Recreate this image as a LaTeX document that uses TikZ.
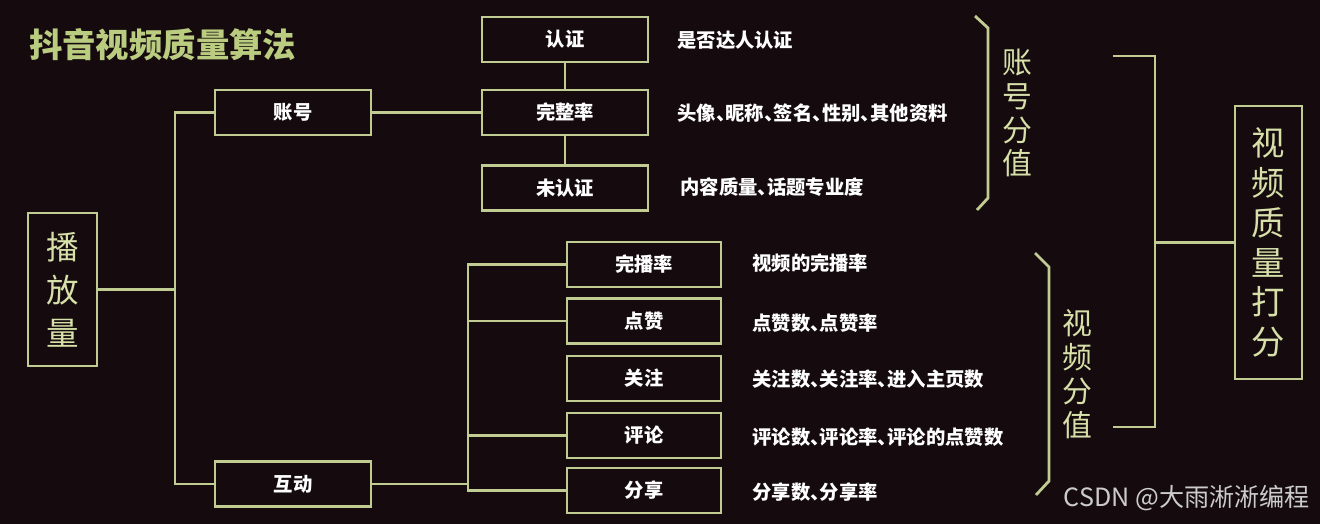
\documentclass[tikz,border=0pt]{standalone}
\usepackage{fontspec}
\usepackage{xcolor}
\usepackage{tikz}
\setmainfont{Noto Sans CJK SC}
\definecolor{dybg}{RGB}{21,11,14}
\definecolor{dyline}{RGB}{192,204,146}
\definecolor{dyvert}{RGB}{214,224,168}
\definecolor{dytitle}{RGB}{186,204,128}
\newcommand{\dun}{\makebox[0.5em][l]{、}}

\begin{document}
\begin{tikzpicture}[x=0.02cm, y=-0.02cm,
    b/.style={draw=dyline, line width=1.6pt, minimum height=0.9cm, inner sep=0pt,
              text=white, font=\fontsize{11}{13}\selectfont\bfseries},
    d/.style={anchor=west, text=white, inner sep=0pt, font=\fontsize{11}{13}\selectfont\bfseries},
    v/.style={align=center, text=dyvert, inner sep=0pt},
    l/.style={dyline, line width=1.6pt}]
    \fill[dybg] (0,0) rectangle (1320,524);
    \node[anchor=west, text=dytitle, font=\fontsize{19}{22}\selectfont\bfseries] (title) at (23,45) {抖音视频质量算法};
    % left part
    \node[b, v, minimum width=1.38cm, minimum height=3.06cm,
          font=\fontsize{18.5}{24.4}\selectfont] (play) at (62.5,289.5) {播\\放\\量};
    \node[b, minimum width=3.12cm] (acct)  at (293,112.5) {账号};
    \node[b, minimum width=3.12cm] (inter) at (293,484)   {互动};
    \coordinate (j1) at (175,297);
    \draw[l] (play.east) -- (play.east -| j1);
    \draw[l] (acct.west) -| (j1) |- (inter.west);
    % account
    \node[b, minimum width=3.32cm] (cert)   at (565,39.5) {认证};
    \node[b, minimum width=3.32cm] (full)   at (565,112.5) {完整率};
    \node[b, minimum width=3.32cm] (uncert) at (565,188)  {未认证};
    \draw[l] (acct) -- (full);
    \draw[l] (cert) -- (full);
    \draw[l] (full) -- (uncert);
    \node[d] (dcert)   at (677,40)  {是否达人认证};
    \node[d] (dfull)   at (677,113) {头像\dun 昵称\dun 签名\dun 性别\dun 其他资料};
    \node[d] (duncert) at (680,187) {内容质量\dun 话题专业度};
    % interaction
    \node[b, minimum width=3.08cm] (finish)  at (644,264.5) {完播率};
    \node[b, minimum width=3.08cm] (like)    at (644,321)   {点赞};
    \node[b, minimum width=3.08cm] (follow)  at (644,378.5) {关注};
    \node[b, minimum width=3.08cm] (comment) at (644,435.5) {评论};
    \node[b, minimum width=3.08cm] (share)   at (644,490.5) {分享};
    \coordinate (j2) at (468,484);
    \draw[l] (inter) -- (j2);
    \draw[l] (finish.west) -| (j2 |- share.west) -- (share.west);
    \draw[l] (like.west) -- (like.west -| j2);
    \draw[l] (comment.west) -- (comment.west -| j2);
    \node[d] (dfinish)  at (752,263) {视频的完播率};
    \node[d] (dlike)    at (752,323) {点赞数\dun 点赞率};
    \node[d] (dfollow)  at (752,379) {关注数\dun 关注率\dun 进入主页数};
    \node[d] (dcomment) at (752,437) {评论数\dun 评论率\dun 评论的点赞数};
    \node[d] (dshare)   at (752,492) {分享数\dun 分享率};
    % brackets
    \draw[l] (975,16) -- (988,28) -- (988,198) -- (977,210);
    \draw[l] (1035,253) -- (1049,267) -- (1049,481) -- (1036,495);
    \node[v, font=\fontsize{17}{19.3}\selectfont] (acctval) at (1017,113) {账\\号\\分\\值};
    \node[v, font=\fontsize{17}{19.3}\selectfont] (vidval)  at (1077,374) {视\\频\\分\\值};
    % total score
    \node[b, v, minimum width=1.34cm, minimum height=5.46cm,
          font=\fontsize{19}{22.7}\selectfont] (score) at (1268.5,242.5) {视\\频\\质\\量\\打\\分};
    \draw[l] (1113,56) -- (1155,56) -- (1155,427) -- (1113,427);
    \draw[l] (1155,242.5) -- (score.west);
    \node[anchor=east, text=black!20, font=\fontsize{14.3}{16}\selectfont] (mark) at (1316,498) {CSDN @大雨淅淅编程};
\end{tikzpicture}
\end{document}
